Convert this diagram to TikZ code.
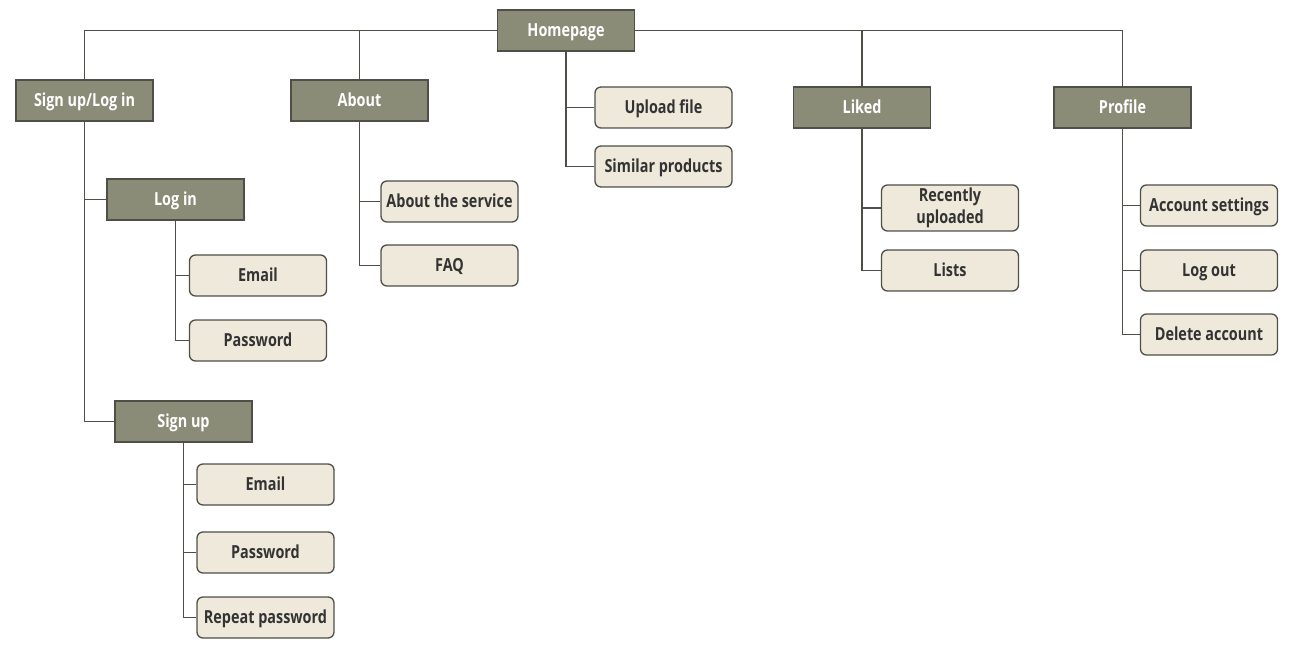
\documentclass[tikz,border=0pt]{standalone}
\usepackage{fontspec}
\setmainfont{Open Sans}[FakeStretch=0.8]
\definecolor{darkbox}{HTML}{8A8C78}
\definecolor{lightbox}{HTML}{EEE9DA}
\definecolor{edge}{HTML}{4F4F48}
\definecolor{ink}{HTML}{333333}
\begin{document}
\begin{tikzpicture}[x=1pt,y=-1pt,
  box/.style={draw=edge,line width=1.3pt,minimum width=137pt,minimum height=41pt,inner sep=1pt,align=center,font=\fontsize{18}{21}\selectfont\bfseries},
  section/.style={box,fill=darkbox,text=white,text height=12.85pt,text depth=0pt},
  page/.style={box,fill=lightbox,text=ink,rounded corners=6pt,text height=12.85pt,text depth=0pt},
  pagetall/.style={box,fill=lightbox,text=ink,rounded corners=6pt,minimum height=46pt,font=\fontsize{18}{22.5}\selectfont\bfseries},
  link/.style={draw=edge,line width=1.3pt}]

\useasboundingbox (0,0) rectangle (1298,652);

% top level
\node[section] (home) at (566,30.5){Homepage};
\node[section] (signlog) at (84.5,100.5){Sign up/Log in};
\node[section] (about) at (359.5,100.5){About};
\node[section] (liked) at (862,107.5){Liked};
\node[section] (profile) at (1122.5,107.5){Profile};

% second level
\node[page] (upload) at (663.5,107.5){Upload file};
\node[page] (similar) at (663.5,166.5){Similar products};
\node[section] (login) at (175.5,199.5){Log in};
\node[section] (signup) at (183.5,421.5){Sign up};
\node[page] (service) at (449.5,201.5){About the service};
\node[page] (faq) at (449.5,265.5){FAQ};
\node[pagetall] (recent) at (950,208){Recently\\uploaded};
\node[page] (lists) at (950,270.5){Lists};
\node[page] (settings) at (1209,205.5){Account settings};
\node[page] (logout) at (1209,270.5){Log out};
\node[page] (delete) at (1209,334.5){Delete account};

% third level
\node[page] (loginmail) at (258,275.5){Email};
\node[page] (loginpass) at (258,340.5){Password};
\node[page] (signmail) at (265.5,484.5){Email};
\node[page] (signpass) at (265.5,552.5){Password};
\node[page] (signrepeat) at (265.5,617.5){Repeat password};

% connectors
\draw[link] (home.west) -| (signlog.north);
\draw[link] (home.west) -| (about.north);
\draw[link] (home.east) -| (liked.north);
\draw[link] (home.east) -| (profile.north);
\draw[link] (home.south) |- (upload.west);
\draw[link] (home.south) |- (similar.west);
\draw[link] (signlog.south) |- (login.west);
\draw[link] (signlog.south) |- (signup.west);
\draw[link] (login.south) |- (loginmail.west);
\draw[link] (login.south) |- (loginpass.west);
\draw[link] (signup.south) |- (signmail.west);
\draw[link] (signup.south) |- (signpass.west);
\draw[link] (signup.south) |- (signrepeat.west);
\draw[link] (about.south) |- (service.west);
\draw[link] (about.south) |- (faq.west);
\draw[link] (liked.south) |- (recent.west);
\draw[link] (liked.south) |- (lists.west);
\draw[link] (profile.south) |- (settings.west);
\draw[link] (profile.south) |- (logout.west);
\draw[link] (profile.south) |- (delete.west);
\end{tikzpicture}
\end{document}
